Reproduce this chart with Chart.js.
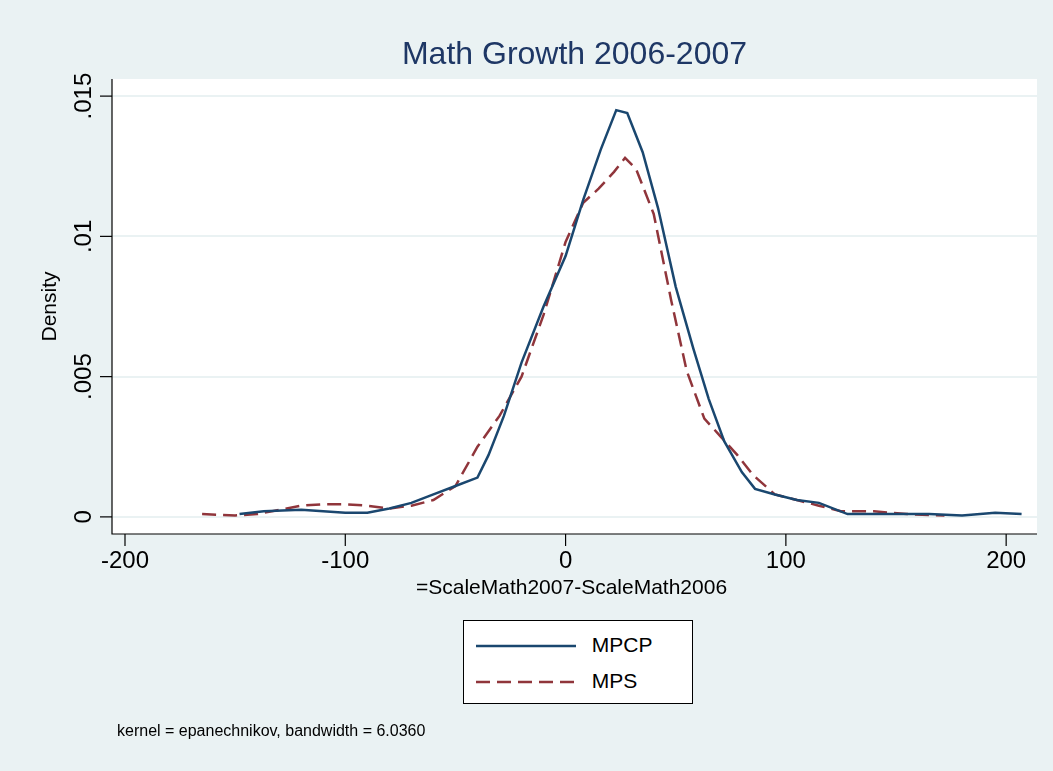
<!DOCTYPE html>
<html><head><meta charset="utf-8">
<script src="https://cdn.jsdelivr.net/npm/chart.js@4"></script>
<style>
body{margin:0;background:#eaf2f3;font-family:"Liberation Sans",Arial,sans-serif}
#wrap{position:relative;width:1053px;height:771px}
#legend{position:absolute;left:463px;top:620px;width:230px;height:84px;background:#fff;border:1px solid #000;box-sizing:border-box}
.row{position:absolute;left:12px;font-size:21px;color:#000}
.note{position:absolute;left:117px;top:722px;font-size:16px}
</style></head><body>
<div id="wrap"><canvas id="c" width="1053" height="771"></canvas>
<div id="legend">
<div class="row" style="top:12px"><svg width="110" height="20" style="vertical-align:middle"><line x1="0" y1="10" x2="100" y2="10" stroke="#1a476f" stroke-width="2.5"/></svg> MPCP</div>
<div class="row" style="top:48px"><svg width="110" height="20" style="vertical-align:middle"><line x1="0" y1="10" x2="100" y2="10" stroke="#90353b" stroke-width="2.5" stroke-dasharray="14,7"/></svg> MPS</div>
</div>
<div class="note">kernel = epanechnikov, bandwidth = 6.0360</div>
</div>
<script>
const mpcpX = [-148,-137,-120,-100,-90,-80,-70,-60,-50,-40,-35,-28,-20,-10,0,8,16,23,28,35,42,50,58,65,72,80,86,95,105,115,128,140,150,165,180,195,207];
const mpcpY = [0.0001,0.0002,0.00025,0.00015,0.00015,0.0003,0.0005,0.0008,0.0011,0.0014,0.0022,0.0036,0.0055,0.0075,0.0093,0.0113,0.0131,0.0145,0.0144,0.013,0.011,0.0082,0.006,0.0042,0.0027,0.0016,0.001,0.0008,0.0006,0.0005,0.0001,0.0001,0.0001,0.0001,0.00005,0.00015,0.0001];
const mpsX = [-165,-150,-140,-130,-120,-110,-100,-90,-80,-70,-60,-50,-40,-30,-20,-10,0,8,15,22,27,32,40,48,55,63,70,78,85,95,105,115,125,140,155,172];
const mpsY = [0.0001,0.00005,0.0001,0.00025,0.0004,0.00045,0.00045,0.0004,0.0003,0.0004,0.0006,0.0011,0.0025,0.0036,0.005,0.0072,0.0098,0.0112,0.0117,0.0123,0.0128,0.0124,0.0108,0.0077,0.0052,0.0035,0.0029,0.0022,0.0015,0.0008,0.0006,0.0004,0.0002,0.0002,0.0001,0.00005];
const xTicks = [-200,-100,0,100,200];
const yTicks = [0,0.005,0.01,0.015];
const yLabels = ['0','.005','.01','.015'];

const pts = (xs, ys) => xs.map((x, i) => ({x: x, y: ys[i]}));

const deco = {
  id: 'deco',
  beforeDraw(chart) {
    const {ctx, chartArea: a} = chart;
    ctx.save();
    ctx.fillStyle = '#fff';
    ctx.fillRect(a.left, a.top, a.right - a.left, a.bottom - a.top);
    ctx.restore();
  },
  afterDraw(chart) {
    const {ctx, chartArea: a, scales: {x, y}} = chart;
    ctx.save();
    ctx.strokeStyle = '#000'; ctx.lineWidth = 1.2;
    ctx.beginPath();
    ctx.moveTo(a.left, a.top); ctx.lineTo(a.left, a.bottom); ctx.lineTo(a.right, a.bottom);
    ctx.stroke();
    ctx.fillStyle = '#000';
    ctx.font = '24px "Liberation Sans", Arial';
    ctx.textAlign = 'center'; ctx.textBaseline = 'top';
    xTicks.forEach(v => {
      const px = x.getPixelForValue(v);
      ctx.beginPath(); ctx.moveTo(px, a.bottom); ctx.lineTo(px, a.bottom + 12); ctx.stroke();
      ctx.fillText(String(v), px, a.bottom + 15);
    });
    yTicks.forEach((v, i) => {
      const py = y.getPixelForValue(v);
      ctx.beginPath(); ctx.moveTo(a.left, py); ctx.lineTo(a.left - 12, py); ctx.stroke();
      ctx.save(); ctx.translate(a.left - 16, py); ctx.rotate(-Math.PI / 2);
      ctx.textBaseline = 'bottom'; ctx.fillText(yLabels[i], 0, 0); ctx.restore();
    });
    ctx.font = '21px "Liberation Sans", Arial';
    ctx.fillText('=ScaleMath2007-ScaleMath2006', (a.left + a.right) / 2 - 3, 578);
    ctx.save(); ctx.translate(50, (a.top + a.bottom) / 2); ctx.rotate(-Math.PI / 2);
    ctx.textBaseline = 'middle'; ctx.fillText('Density', 0, 0); ctx.restore();
    ctx.fillStyle = '#1e3765';
    ctx.font = '32px "Liberation Sans", Arial';
    ctx.textBaseline = 'middle';
    ctx.fillText('Math Growth 2006-2007', (a.left + a.right) / 2, 55);
    ctx.restore();
  }
};

new Chart(document.getElementById('c'), {
  type: 'line',
  data: {
    datasets: [
      {label: 'MPCP', data: pts(mpcpX, mpcpY), borderColor: '#1a476f', borderWidth: 2.5, pointRadius: 0, tension: 0},
      {label: 'MPS', data: pts(mpsX, mpsY), borderColor: '#90353b', borderWidth: 2.5, borderDash: [14, 7], pointRadius: 0, tension: 0}
    ]
  },
  options: {
    responsive: false, animation: false,
    layout: {padding: {left: 112, right: 16, top: 79, bottom: 229}},
    plugins: {legend: {display: false}, tooltip: {enabled: false}},
    scales: {
      x: {type: 'linear', min: -205.9, max: 214, ticks: {display: false}, grid: {display: false}, border: {display: false}},
      y: {min: -0.00061, max: 0.01561, afterBuildTicks: s => { s.ticks = yTicks.map(v => ({value: v})); },
          ticks: {display: false}, grid: {color: '#eaf2f3', lineWidth: 2, drawTicks: false}, border: {display: false}}
    }
  },
  plugins: [deco]
});
</script>
</body></html>
